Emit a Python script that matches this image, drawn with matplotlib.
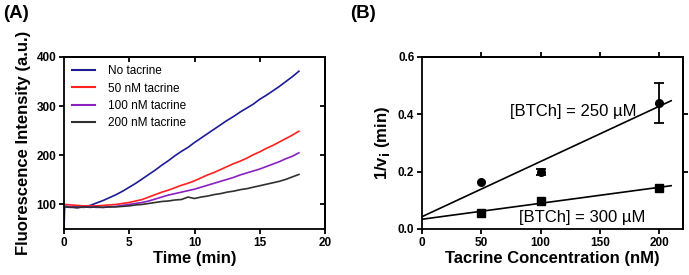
import numpy as np
import matplotlib.pyplot as plt

plt.rcParams["font.family"] = ["Liberation Sans", "DejaVu Sans"]

# (A) fluorescence kinetics
time_min = [0, 0.05] + [0.5 * k for k in range(1, 37)]
no_tacrine = [50, 96, 95, 93, 95, 98, 103, 108, 114, 120, 127, 135, 143, 152, 161,
              170, 180, 189, 199, 208, 216, 226, 235, 244, 253, 262, 271, 279, 288,
              296, 304, 314, 322, 331, 340, 350, 360, 371]
tac_50 = [100, 100, 99, 98, 97, 97, 97, 98, 99, 100, 102, 104, 107, 110, 115, 120,
          125, 129, 134, 139, 143, 148, 154, 160, 165, 171, 177, 183, 188, 194, 201,
          207, 214, 220, 227, 234, 241, 249]
tac_100 = [96, 96, 95, 95, 94, 95, 94, 94, 95, 96, 98, 100, 102, 104, 107, 111, 115,
           119, 122, 125, 128, 131, 135, 139, 143, 147, 151, 155, 160, 164, 168, 172,
           177, 182, 187, 193, 198, 205]
tac_200 = [95, 95, 94, 94, 95, 94, 95, 94, 95, 95, 96, 97, 99, 100, 102, 104, 106,
           107, 109, 110, 115, 112, 115, 117, 120, 122, 125, 127, 130, 132, 135, 138,
           141, 144, 147, 151, 156, 161]
series_labels = ["No tacrine", "50 nM tacrine", "100 nM tacrine", "200 nM tacrine"]
series_colors = ["#1c1c96", "#ff2020", "#8a20c0", "#303030"]

# (B) 1/vi versus tacrine concentration
conc = [50, 100, 200]
inv_v_250 = [0.163, 0.200, 0.440]
err_250 = [0.0, 0.010, 0.070]
inv_v_300 = [0.057, 0.097, 0.143]
err_300 = [0.0, 0.0, 0.0]

fig = plt.figure(figsize=(6.89, 2.75), dpi=100)
ax_a = fig.add_axes([0.0929, 0.1673, 0.3788, 0.6255])
ax_b = fig.add_axes([0.6125, 0.1673, 0.3788, 0.6255])

label_font = {"fontsize": 12, "fontweight": "bold"}

for vals, lab, col in zip([no_tacrine, tac_50, tac_100, tac_200], series_labels,
                          series_colors):
    ax_a.plot(time_min, vals, color=col, lw=1.2, label=lab)
ax_a.set_xlim(0, 20)
ax_a.set_ylim(50, 400)
ax_a.set_xticks([0, 5, 10, 15, 20])
ax_a.set_yticks([100, 200, 300, 400])
ax_a.set_xlabel("Time (min)", **label_font, labelpad=2)
ax_a.set_ylabel("Fluorescence Intensity (a.u.)", **label_font, labelpad=4)
leg = ax_a.legend(loc="upper left", frameon=False, fontsize=8.5, handlelength=1.9,
                  handletextpad=1.1, labelspacing=0.45, borderaxespad=0.3)
for h in leg.get_lines():
    h.set_linewidth(1.5)

top_a = ax_a.secondary_xaxis("top")
top_a.set_xticks([5, 10, 15])
top_a.tick_params(direction="in", labeltop=False, width=1.3, length=3.5)
right_a = ax_a.secondary_yaxis("right")
right_a.set_yticks([100, 200, 300])
right_a.tick_params(direction="in", labelright=False, width=1.3, length=3.5)
fig.text(0.005, 0.935, "(A)", fontsize=13.5, fontweight="bold")

# panel B
xfit = np.array([0, 210])
for y, e, mk, ms in [(inv_v_250, err_250, "o", 5.5), (inv_v_300, err_300, "s", 6)]:
    x = np.array(conc)
    y = np.array(y)
    e = np.array(e)
    has_err = e > 0
    if has_err.any():
        ax_b.errorbar(x[has_err], y[has_err], yerr=e[has_err], fmt="none",
                      ecolor="black", capsize=3.5, elinewidth=1.3, capthick=1.3)
    ax_b.plot(x, y, mk, color="black", ms=ms)
    p = np.polyfit(x, y, 1)
    ax_b.plot(xfit, np.polyval(p, xfit), color="black", lw=1.2)
ax_b.text(74, 0.41, "[BTCh] = 250 \u00b5M", fontsize=12, va="center")
ax_b.text(82, 0.04, "[BTCh] = 300 \u00b5M", fontsize=12, va="center")
ax_b.set_xlim(0, 220)
ax_b.set_ylim(0, 0.6)
ax_b.set_xticks([0, 50, 100, 150, 200])
ax_b.set_yticks([0.0, 0.2, 0.4, 0.6])
ax_b.set_yticklabels(["0.0", "0.2", "0.4", "0.6"])
ax_b.set_xlabel("Tacrine Concentration (nM)", **label_font, labelpad=2)
ax_b.set_ylabel("1/v$_\\mathbf{i}$ (min)", **label_font, labelpad=4)
top_b = ax_b.secondary_xaxis("top")
top_b.set_xticks([50, 100, 150, 200])
top_b.tick_params(direction="out", labeltop=False, width=1.3, length=3.5)
right_b = ax_b.secondary_yaxis("right")
right_b.set_yticks([0.2, 0.4])
right_b.tick_params(direction="out", labelright=False, width=1.3, length=3.5)
fig.text(0.508, 0.935, "(B)", fontsize=13.5, fontweight="bold")

for ax in [ax_a, ax_b]:
    ax.tick_params(direction="out", width=1.3, length=3.5, pad=2)
    for lab in ax.get_xticklabels() + ax.get_yticklabels():
        lab.set_fontsize(8.5)
        lab.set_fontweight("bold")
for ax in [ax_a, ax_b, top_a, top_b, right_a, right_b]:
    for s in ax.spines.values():
        s.set_linewidth(1.3)

fig.savefig("out.png", dpi=100)
